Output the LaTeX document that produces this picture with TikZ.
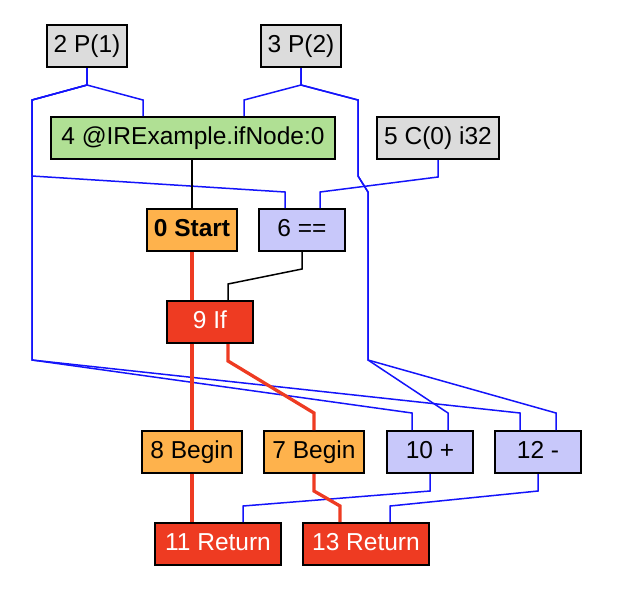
\documentclass[tikz,border=0pt]{standalone}
\usepackage{fontspec}
\setmainfont{Liberation Sans}
\usepackage{tikz}
\definecolor{cparam}{RGB}{220,220,220}
\definecolor{cfunc}{RGB}{176,224,148}
\definecolor{cblock}{RGB}{254,178,76}
\definecolor{cop}{RGB}{200,200,250}
\definecolor{cctrl}{RGB}{238,59,34}
\definecolor{cval}{RGB}{20,20,250}
\tikzstyle{ir} = [draw=black, line width=2pt, rectangle, minimum height=42pt, inner sep=0pt, text height=17pt, text depth=5pt, font={\fontsize{24.5}{28}\selectfont}]
\tikzstyle{param} = [ir, fill=cparam]
\tikzstyle{func} = [ir, fill=cfunc]
\tikzstyle{block} = [ir, fill=cblock]
\tikzstyle{op} = [ir, fill=cop]
\tikzstyle{ctrl} = [ir, fill=cctrl, text=white]
\tikzstyle{val} = [draw=cval, line width=1.5pt, line join=miter]
\tikzstyle{dep} = [draw=black, line width=1.5pt]
\tikzstyle{flow} = [draw=cctrl, line width=3.3pt]

\begin{document}
\begin{tikzpicture}[x=1pt,y=-1pt]
        \useasboundingbox (0,0) rectangle (628,590);
        \node[param,minimum width=80pt](2) at (87,46){2 P(1)};
        \node[param,minimum width=80pt](3) at (301,46){3 P(2)};
        \node[func,minimum width=284pt](4) at (193,138){4 @IRExample.ifNode:0};
        \node[param,minimum width=122pt](5) at (438,138){5 C(0) i32};
        \node[block,minimum width=90pt,font={\fontsize{24.5}{28}\selectfont\bfseries}](0) at (192,230){0 Start};
        \node[op,minimum width=86pt](6) at (302,230){6 ==};
        \node[ctrl,minimum width=86pt](9) at (210,322){9 If};
        \node[block,minimum width=100pt](8) at (192,452){8 Begin};
        \node[block,minimum width=100pt](7) at (314,452){7 Begin};
        \node[op,minimum width=86pt](10) at (430,452){10 +};
        \node[op,minimum width=86pt](12) at (538,452){12 -};
        \node[ctrl,minimum width=126pt](11) at (218,544){11 Return};
        \node[ctrl,minimum width=126pt](13) at (366,544){13 Return};
        % values
        \draw[val](2.south)--++(0,17)--(143,100)--([xshift=-50pt]4.north);
        \draw[val](2.south)--++(0,17)--(32,100)--(32,176)--(285,192)--([xshift=-17pt]6.north);
        \draw[val](2.south)--++(0,17)--(32,100)--(32,360)--(412,413)--([xshift=-18pt]10.north);
        \draw[val](2.south)--++(0,17)--(32,100)--(32,360)--(520,413)--([xshift=-18pt]12.north);
        \draw[val](3.south)--++(0,17)--(244,100)--([xshift=51pt]4.north);
        \draw[val](3.south)--++(0,17)--(358,100)--(358,176)--(368,192)--(368,360)--(448,413)--([xshift=18pt]10.north);
        \draw[val](3.south)--++(0,17)--(358,100)--(358,176)--(368,192)--(368,360)--(556,413)--([xshift=18pt]12.north);
        \draw[val](5.south)--++(0,17)--(320,192)--([xshift=18pt]6.north);
        \draw[val](10.south)--++(0,17)--(243,506)--([xshift=25pt]11.north);
        \draw[val](12.south)--++(0,17)--(390,506)--([xshift=24pt]13.north);
        % dependencies
        \draw[dep](0.north |- 4.south)--(0.north);
        \draw[dep](6.south)--++(0,17)--(228,284)--([xshift=18pt]9.north);
        % control flow
        \draw[flow](0.south)--(0.south |- 9.north);
        \draw[flow]([xshift=-18pt]9.south)--(8.north);
        \draw[flow]([xshift=18pt]9.south)--++(0,17)--(314,413)--(7.north);
        \draw[flow](8.south)--(8.south |- 11.north);
        \draw[flow](7.south)--++(0,17)--(340,506)--([xshift=-26pt]13.north);
      \end{tikzpicture}
\end{document}
